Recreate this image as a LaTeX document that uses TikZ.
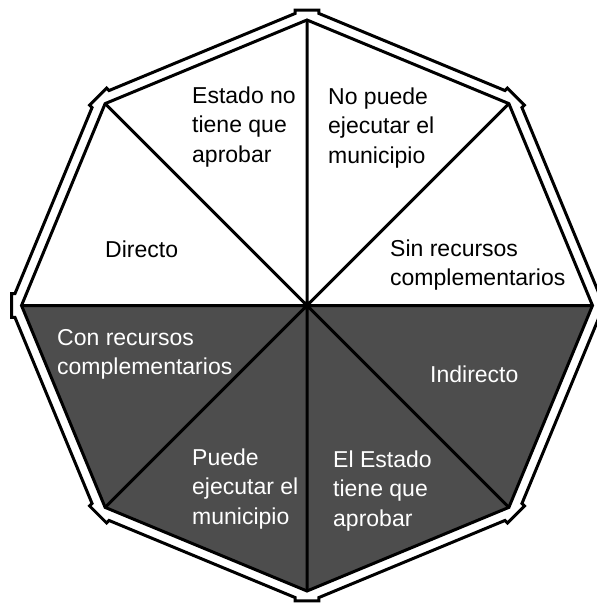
\documentclass[tikz,border=0pt]{standalone}
\usepackage{fontspec}
\setmainfont{Liberation Sans}
\definecolor{dark}{RGB}{77,77,77}
\begin{document}
\begin{tikzpicture}[x=1pt,y=-1pt,
  lbl/.style={anchor=north west, inner sep=0pt, align=left, font=\fontsize{23}{29.5}\selectfont},
  wlbl/.style={lbl, text=white},
  bord/.style={line width=3pt, line join=miter}]
\useasboundingbox (0,0) rectangle (597,606);
\begin{scope}[shift={(307,305.5)}]
 \coordinate (c) at (0,0);
 \foreach \i in {0,...,7} \coordinate (v\i) at (\i*45:285.5);
 \fill[dark] (v0)--(v1)--(v2)--(v3)--(v4)--cycle;
 \draw[bord] (v0)--(v1)--(v2)--(v3)--(v4)--(v5)--(v6)--(v7)--cycle;
 \draw[bord] (v0)--(v4) (v1)--(v5) (v2)--(v6) (v3)--(v7);
 \draw[bord] (-2.353:292.25) \foreach \a in {0,45,...,315}{ -- (\a-2.353:292.25) -- (\a-2.325:295.74) -- (\a+2.325:295.74) -- (\a+2.353:292.25)} -- cycle;
\end{scope}
\node[lbl] (t1) at (192,82.35) {\strut Estado no\\tiene que\\aprobar};
\node[lbl] (t2) at (328,83.35) {\strut No puede\\ejecutar el\\municipio};
\node[lbl] (t3) at (105,236.35) {\strut Directo};
\node[lbl] (t4) at (390,235.35) {\strut Sin recursos\\complementarios};
\node[wlbl] (t5) at (57,324.35) {\strut Con recursos\\complementarios};
\node[wlbl] (t6) at (430,361.35) {\strut Indirecto};
\node[wlbl] (t7) at (192,444.35) {\strut Puede\\ejecutar el\\municipio};
\node[wlbl] (t8) at (333,446.35) {\strut El Estado\\tiene que\\aprobar};
\end{tikzpicture}
\end{document}
